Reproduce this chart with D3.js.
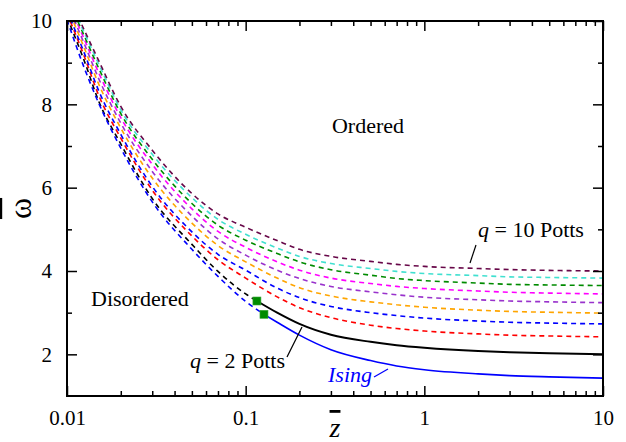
<!DOCTYPE html>
<html><head><meta charset="utf-8">
<script src="https://cdn.jsdelivr.net/npm/d3@7"></script>
<style>
body{margin:0;background:#fff}
svg{display:block}
</style>
</head><body>
<svg id="chart" width="626" height="442"></svg>
<script>
// ---- data ----
const zGrid = [0.01,0.0125,0.015,0.02,0.03,0.05,0.07,0.1,0.15,0.2,0.3,0.5,0.7,1,2,3,5,10];
const wIsing = [10.03,8.87,8.04,6.95,5.66,4.52,3.87,3.27,2.77,2.46,2.11,1.85,1.72,1.63,1.53,1.49,1.46,1.43];
const wQ2  = [10.09,9.04,8.09,7.05,5.74,4.64,3.99,3.45,3.00,2.73,2.47,2.30,2.22,2.16,2.08,2.05,2.025,2.00];
const wQ3  = [10.18,9.15,8.23,7.19,5.94,4.84,4.27,3.83,3.38,3.12,2.88,2.70,2.62,2.56,2.49,2.46,2.44,2.42];
const wQ4  = [10.25,9.23,8.34,7.28,6.03,4.94,4.40,4.02,3.59,3.36,3.15,3.00,2.93,2.87,2.80,2.77,2.75,2.73];
const wQ5  = [10.35,9.35,8.50,7.43,6.23,5.15,4.61,4.22,3.83,3.60,3.40,3.26,3.19,3.13,3.06,3.03,3.01,2.99];
const wQ6  = [10.43,9.45,8.63,7.55,6.39,5.32,4.77,4.38,4.02,3.82,3.63,3.50,3.43,3.37,3.31,3.28,3.26,3.24];
const wQ7  = [10.52,9.56,8.77,7.68,6.56,5.49,4.95,4.57,4.22,4.02,3.83,3.70,3.63,3.58,3.52,3.49,3.47,3.45];
const wQ8  = [10.58,9.64,8.88,7.78,6.68,5.62,5.10,4.74,4.42,4.22,4.03,3.90,3.82,3.77,3.71,3.68,3.665,3.65];
const wQ9  = [10.65,9.72,8.98,7.87,6.80,5.76,5.24,4.88,4.55,4.35,4.18,4.06,3.99,3.94,3.89,3.86,3.845,3.83];
const wQ10 = [10.70,9.78,9.06,7.95,6.90,5.86,5.37,5.05,4.73,4.52,4.35,4.23,4.16,4.11,4.06,4.035,4.015,4.00];

// end points of the dashed part of the q=2 and Ising curves
const markerZ = [0.1156, 0.1266];
const markerW = [3.28, 2.96];

const xTicks = [0.01, 0.1, 1, 10];
const xTickLabels = ["0.01", "0.1", "1", "10"];
const yTicks = [2, 4, 6, 8, 10];
const yTickLabels = ["2", "4", "6", "8", "10"];

// ---- layout ----
const W = 626, H = 442;
const m = {left: 67, right: 23, top: 21, bottom: 46};
const iw = W - m.left - m.right, ih = H - m.top - m.bottom;
const FONT = "Liberation Serif, Times New Roman, Times, Tinos, Nimbus Roman, Noto Serif, DejaVu Serif, FreeSerif, serif";

const svg = d3.select("#chart");
const x = d3.scaleLog().domain([0.01, 10]).range([0, iw]);
const y = d3.scaleLinear().domain([1, 10]).range([ih, 0]);

const g = svg.append("g").attr("transform", `translate(${m.left},${m.top})`);

svg.append("defs").append("clipPath").attr("id", "clip")
  .append("rect").attr("width", iw).attr("height", ih);

const line = d3.line().x(d => x(d[0])).y(d => y(d[1])).curve(d3.curveMonotoneX);
const plot = g.append("g").attr("clip-path", "url(#clip)");

const dashed = [
  {w: wQ3,  c: "#ff0000"},
  {w: wQ4,  c: "#0000ff"},
  {w: wQ5,  c: "#ffa500"},
  {w: wQ6,  c: "#9932cc"},
  {w: wQ7,  c: "#ff00ff"},
  {w: wQ8,  c: "#008b00"},
  {w: wQ9,  c: "#40e0d0"},
  {w: wQ10, c: "#670748"}
];
dashed.forEach(s => {
  plot.append("path")
    .datum(zGrid.map((z, i) => [z, s.w[i]]))
    .attr("d", line).attr("fill", "none")
    .attr("stroke", s.c).attr("stroke-width", 1.6)
    .attr("stroke-dasharray", "5,4");
});

const split = [
  {w: wQ2, c: "#000000", mz: markerZ[0], mw: markerW[0], sw: 2},
  {w: wIsing, c: "#0000ff", mz: markerZ[1], mw: markerW[1], sw: 1.6}
];
split.forEach(s => {
  const pts = zGrid.map((z, i) => [z, s.w[i]]);
  const left = pts.filter(p => p[0] < s.mz).concat([[s.mz, s.mw]]);
  const right = [[s.mz, s.mw]].concat(pts.filter(p => p[0] > s.mz));
  plot.append("path").datum(left).attr("d", line).attr("fill", "none")
    .attr("stroke", s.c).attr("stroke-width", 1.6).attr("stroke-dasharray", "5,4");
  plot.append("path").datum(right).attr("d", line).attr("fill", "none")
    .attr("stroke", s.c).attr("stroke-width", s.sw);
});

g.selectAll("rect.mk").data(markerZ.map((z, i) => [z, markerW[i]])).enter()
  .append("rect").attr("class", "mk")
  .attr("x", d => x(d[0]) - 4).attr("y", d => y(d[1]) - 4)
  .attr("width", 8).attr("height", 8)
  .attr("fill", "#008b00").attr("stroke", "#3aa83a").attr("stroke-width", 0.6);

// ---- axes ----
const minorX = [];
for (let dec = 0.01; dec < 10; dec *= 10) for (let k = 2; k <= 9; k++) minorX.push(+(dec * k).toPrecision(3));
const minorY = [3, 5, 7, 9];

function styleAxis(sel) {
  sel.attr("font-family", null);
  sel.select(".domain").remove();
  sel.selectAll("line").attr("stroke", "#000").attr("stroke-width", 1.5);
}
g.append("g").attr("transform", `translate(0,${ih})`)
  .call(d3.axisBottom(x).tickValues(xTicks).tickSize(-10).tickPadding(14)
        .tickFormat((d, i) => xTickLabels[i]))
  .call(styleAxis)
  .call(a => a.selectAll("text").attr("font-size", 21).attr("fill", "#000").attr("dy", "0.71em")
        .style("font-family", FONT));
g.append("g").attr("transform", `translate(0,${ih})`)
  .call(d3.axisBottom(x).tickValues(minorX).tickSize(-5).tickFormat(""))
  .call(styleAxis);
g.append("g")
  .call(d3.axisTop(x).tickValues(xTicks).tickSize(-10).tickFormat(""))
  .call(styleAxis);
g.append("g")
  .call(d3.axisTop(x).tickValues(minorX).tickSize(-5).tickFormat(""))
  .call(styleAxis);
g.append("g")
  .call(d3.axisLeft(y).tickValues(yTicks).tickSize(-10).tickPadding(15)
        .tickFormat((d, i) => yTickLabels[i]))
  .call(styleAxis)
  .call(a => a.selectAll("text").attr("font-size", 21).attr("fill", "#000")
        .style("font-family", FONT));
g.append("g")
  .call(d3.axisLeft(y).tickValues(minorY).tickSize(-5).tickFormat(""))
  .call(styleAxis);
g.append("g").attr("transform", `translate(${iw},0)`)
  .call(d3.axisRight(y).tickValues(yTicks).tickSize(-10).tickFormat(""))
  .call(styleAxis);
g.append("g").attr("transform", `translate(${iw},0)`)
  .call(d3.axisRight(y).tickValues(minorY).tickSize(-5).tickFormat(""))
  .call(styleAxis);

g.append("rect").attr("width", iw).attr("height", ih)
  .attr("fill", "none").attr("stroke", "#000").attr("stroke-width", 2);

// axis titles
svg.append("text").attr("transform", `translate(31,${m.top + ih / 2}) rotate(-90)`)
  .attr("text-anchor", "middle").attr("font-size", 32).style("font-family", FONT)
  .style("text-decoration", "overline").text("ω");
svg.append("text").attr("x", m.left + iw / 2).attr("y", 437)
  .attr("text-anchor", "middle").attr("font-size", 28).attr("font-style", "italic")
  .style("font-family", FONT)
  .style("text-decoration", "overline").text("z");

// annotations
function txt(xp, yp, anchor) {
  return svg.append("text").attr("x", xp).attr("y", yp).attr("text-anchor", anchor)
    .attr("font-size", 22).style("font-family", FONT);
}
txt(368, 133, "middle").text("Ordered");
txt(91, 306, "start").text("Disordered");

const t10 = txt(478, 237, "start");
t10.append("tspan").attr("font-style", "italic").text("q");
t10.append("tspan").text(" = 10 Potts");
svg.append("line").attr("x1", 476).attr("y1", 245).attr("x2", 470).attr("y2", 263)
  .attr("stroke", "#000").attr("stroke-width", 1.2);

const t2 = txt(285, 368, "end");
t2.append("tspan").attr("font-style", "italic").text("q");
t2.append("tspan").text(" = 2 Potts");
svg.append("line").attr("x1", 287).attr("y1", 357).attr("x2", 302).attr("y2", 327)
  .attr("stroke", "#000").attr("stroke-width", 1.2);

txt(328, 382, "start").attr("font-style", "italic").attr("fill", "#0000ff").text("Ising");
svg.append("line").attr("x1", 374).attr("y1", 377).attr("x2", 388).attr("y2", 369)
  .attr("stroke", "#0000ff").attr("stroke-width", 1.2);
</script>
</body></html>
